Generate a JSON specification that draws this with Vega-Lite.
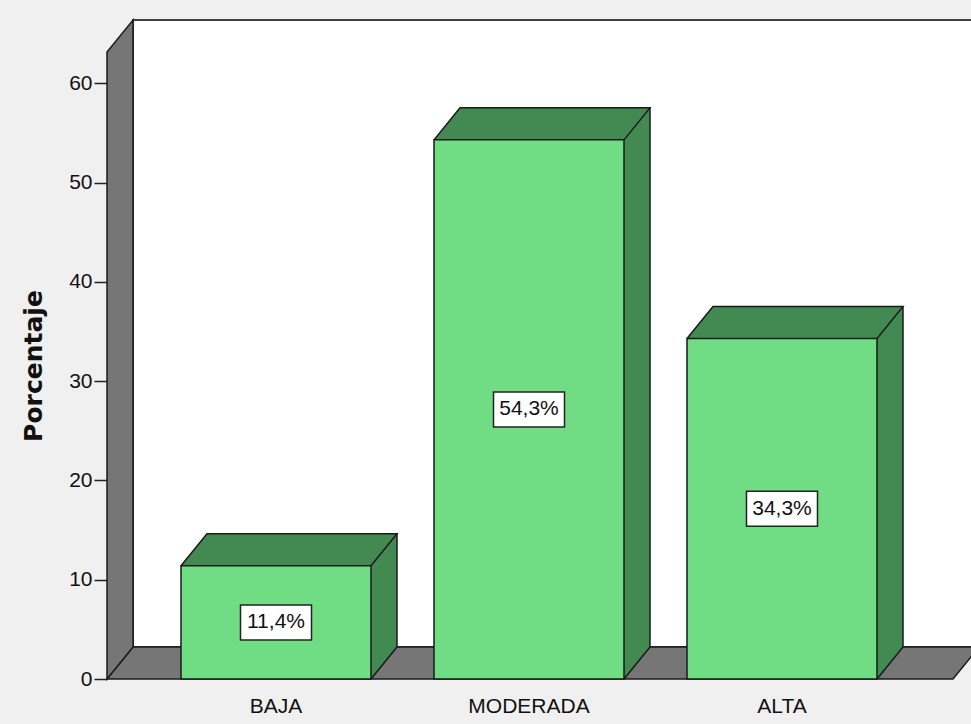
{
  "$schema": "https://vega.github.io/schema/vega-lite/v6.json",
  "width": 844,
  "height": 627,
  "autosize": {"type": "none"},
  "padding": {"left": 107, "top": 52, "right": 20, "bottom": 45},
  "background": "#f0f0f0",
  "config": {"view": {"stroke": null}},
  "data": {
    "values": [
      {"nivel": "BAJA", "pct": 11.4, "etiqueta": "11,4%"},
      {"nivel": "MODERADA", "pct": 54.3, "etiqueta": "54,3%"},
      {"nivel": "ALTA", "pct": 34.3, "etiqueta": "34,3%"}
    ]
  },
  "encoding": {
    "x": {
      "field": "nivel",
      "type": "nominal",
      "scale": {"domain": ["BAJA", "MODERADA", "ALTA"], "paddingInner": 0.249, "paddingOuter": 0.2925},
      "axis": {
        "title": null,
        "ticks": false,
        "tickSize": 0,
        "domain": false,
        "labelAngle": 0,
        "labelFont": "Liberation Sans",
        "labelFontSize": 21,
        "labelColor": "#111111",
        "labelPadding": 16
      }
    }
  },
  "layer": [
    {
      "encoding": {
        "y": {
          "field": "pct",
          "type": "quantitative",
          "scale": {"domain": [0, 63.15], "nice": false, "zero": true},
          "axis": {
            "values": [0, 10, 20, 30, 40, 50, 60],
            "title": "Porcentaje",
            "titleFont": "DejaVu Sans",
            "titleFontSize": 25,
            "titleFontWeight": "bold",
            "titleColor": "#111111",
            "titlePadding": 22,
            "labelFont": "Liberation Sans",
            "labelFontSize": 21,
            "labelColor": "#111111",
            "labelPadding": 2,
            "tickSize": 13,
            "tickColor": "#222222",
            "tickWidth": 1.5,
            "domain": false,
            "grid": false
          }
        }
      },
      "layer": [
        {
          "transform": [{"filter": "datum.nivel === 'BAJA'"}],
          "mark": {"type": "point", "shape": "M -143 -32 L -143 -659 L 740 -659 L 740 -32 Z", "size": 4, "filled": true, "fill": "#ffffff", "stroke": "#404040", "strokeWidth": 2, "opacity": 1},
          "encoding": {"y": {"datum": 0}}
        },
        {
          "transform": [{"filter": "datum.nivel === 'BAJA'"}],
          "mark": {"type": "point", "shape": "M -169 0 L -143 -32 L 703 -32 L 677 0 Z", "size": 4, "filled": true, "fill": "#767676", "stroke": "#1a1a1a", "strokeWidth": 1.5, "opacity": 1},
          "encoding": {"y": {"datum": 0}}
        },
        {
          "transform": [{"filter": "datum.nivel === 'BAJA'"}],
          "mark": {"type": "point", "shape": "M -169 0 L -169 -627 L -143 -659 L -143 -32 Z", "size": 4, "filled": true, "fill": "#767676", "stroke": "#1a1a1a", "strokeWidth": 1.5, "opacity": 1},
          "encoding": {"y": {"datum": 0}}
        },
        {
          "mark": {"type": "bar", "width": 26, "xOffset": 108, "yOffset": -1, "y2Offset": -32, "color": "#428a52"},
          "encoding": {"y2": {"datum": 0}}
        },
        {
          "mark": {"type": "point", "shape": "M 95 -33 L 95 0 L 121 -33 Z", "size": 4, "filled": true, "color": "#428a52", "opacity": 1},
          "encoding": {"y": {"datum": 0}}
        },
        {
          "mark": {"type": "point", "shape": "M -95 0 L 121 0 L 121 -32 L -69 -32 Z", "size": 4, "filled": true, "color": "#428a52", "opacity": 1}
        },
        {
          "mark": {"type": "bar", "color": "#70dc84", "stroke": "#1a1a1a", "strokeWidth": 1.5}
        },
        {
          "mark": {"type": "point", "shape": "M -95 0 L -69 -32 L 121 -32 L 95 0", "size": 4, "filled": false, "color": "#1a1a1a", "strokeWidth": 1.5, "opacity": 1}
        },
        {
          "mark": {"type": "rule", "xOffset": 121, "yOffset": -32, "y2Offset": -32, "color": "#1a1a1a", "strokeWidth": 1.5},
          "encoding": {"y2": {"datum": 0}}
        },
        {
          "mark": {"type": "point", "shape": "M 95 0 L 121 -32", "size": 4, "filled": false, "color": "#1a1a1a", "strokeWidth": 1.5, "opacity": 1},
          "encoding": {"y": {"datum": 0}}
        }
      ]
    },
    {
      "encoding": {
        "y": {"field": "pct", "type": "quantitative", "scale": {"domain": [0, 126.3], "nice": false, "zero": true}, "axis": null}
      },
      "layer": [
        {
          "mark": {"type": "point", "shape": "M -35.5 -17.5 L 35.5 -17.5 L 35.5 17.5 L -35.5 17.5 Z", "size": 4, "filled": true, "fill": "#ffffff", "stroke": "#222222", "strokeWidth": 1.5, "opacity": 1}
        },
        {
          "mark": {"type": "text", "font": "Liberation Sans", "fontSize": 21, "color": "#111111", "align": "center", "baseline": "middle"},
          "encoding": {"text": {"field": "etiqueta"}}
        }
      ]
    }
  ],
  "resolve": {"scale": {"y": "independent"}}
}
